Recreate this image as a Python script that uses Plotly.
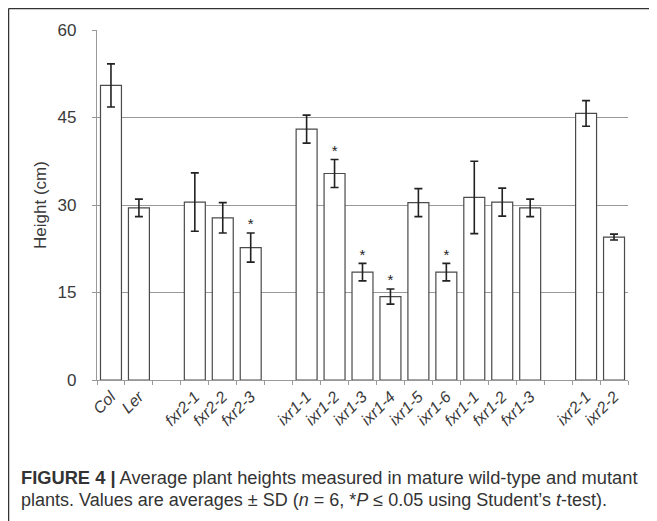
import plotly.graph_objects as go

# ---- data ----
genotypes = ["Col", "Ler",
             "fxr2-1", "fxr2-2", "fxr2-3",
             "ixr1-1", "ixr1-2", "ixr1-3", "ixr1-4", "ixr1-5", "ixr1-6",
             "fxr1-1", "fxr1-2", "fxr1-3",
             "ixr2-1", "ixr2-2"]
heights = [50.5, 29.5, 30.5, 27.8, 22.7, 43.0, 35.4, 18.5, 14.3, 30.4, 18.5,
           31.3, 30.5, 29.5, 45.7, 24.5]
sd = [3.7, 1.5, 5.0, 2.6, 2.5, 2.4, 2.4, 1.5, 1.3, 2.4, 1.5,
      6.2, 2.4, 1.5, 2.2, 0.5]
significant = ["fxr2-3", "ixr1-2", "ixr1-3", "ixr1-4", "ixr1-6"]
group_sizes = [2, 3, 9, 2]
y_ticks = [0, 15, 30, 45, 60]

# ---- category order with empty spacer slots between groups ----
cat_order = []
idx = 0
for g, n in enumerate(group_sizes):
    cat_order.extend(genotypes[idx:idx + n])
    idx += n
    if g < len(group_sizes) - 1:
        cat_order.append(" " * (g + 1))

# page has an 8px body margin; figure origin sits at page (8, 8)
OFF = 8
W, H = 657 - OFF, 521 - OFF
ML = 97 - OFF
MR = W - (628 - OFF)
MT = 30 - OFF
MB = H - (380 - OFF)
PW, PH = W - ML - MR, H - MT - MB


def px_x(p):
    """page pixel x -> paper fraction"""
    return (p - OFF - ML) / PW


def px_y(p):
    """page pixel y -> paper fraction"""
    return (H - MB - (p - OFF)) / PH


star_x = [g for g in genotypes if g in significant]
star_y = [heights[genotypes.index(g)] + sd[genotypes.index(g)] for g in star_x]

font_main = "Liberation Sans, Arial, sans-serif"
txt = "#3a3a3a"

fig = go.Figure()
fig.add_trace(go.Bar(
    x=genotypes, y=heights, width=0.75,
    marker=dict(color="white", line=dict(color="#4a4a4a", width=1.2)),
    error_y=dict(type="data", array=sd, visible=True, color="#222222",
                 thickness=1.6, width=4),
    hoverinfo="x+y",
))
fig.add_trace(go.Scatter(
    x=star_x, y=star_y, mode="text", text=["*"] * len(star_x),
    textposition="top center",
    textfont=dict(size=15, color="#222222", family=font_main),
    hoverinfo="skip",
))

fig.update_layout(
    width=W, height=H,
    margin=dict(l=ML, r=MR, t=MT, b=MB, pad=0),
    paper_bgcolor="white", plot_bgcolor="white",
    showlegend=False,
    font=dict(family=font_main, color=txt),
    xaxis=dict(
        type="category", categoryorder="array", categoryarray=cat_order,
        range=[-0.5, len(cat_order) - 0.5],
        tickson="boundaries", ticks="outside", ticklen=4, tickcolor="#999999",
        showline=True, linecolor="#999999", linewidth=1.2,
        showgrid=False, tickangle=-45,
        tickfont=dict(size=16, family=font_main, style="italic", color=txt),
        fixedrange=True,
    ),
    yaxis=dict(
        range=[0, 60], tickvals=y_ticks,
        showgrid=True, gridcolor="#999999", gridwidth=1.2,
        showline=True, linecolor="#999999", linewidth=1.2,
        ticks="outside", ticklen=4, tickcolor="#999999",
        ticklabelstandoff=12,
        zeroline=False,
        tickfont=dict(size=17, color=txt),
        title=dict(text="Height (cm)", font=dict(size=17, color=txt),
                   standoff=6),
        fixedrange=True,
    ),
    shapes=[
        dict(type="line", xref="paper", yref="paper",
             x0=px_x(8.5), x1=px_x(8.5), y0=px_y(8.5), y1=px_y(530),
             line=dict(color="#333333", width=1.5)),
        dict(type="line", xref="paper", yref="paper",
             x0=px_x(8.5), x1=px_x(670), y0=px_y(8.5), y1=px_y(8.5),
             line=dict(color="#333333", width=1.5)),
    ],
    annotations=[
        dict(xref="paper", yref="paper", x=px_x(19), y=px_y(477),
             xanchor="left", yanchor="middle", showarrow=False, align="left",
             text="<b>FIGURE 4 |</b> Average plant heights measured in mature wild-type and mutant",
             font=dict(size=18.3, color="#333333", family=font_main)),
        dict(xref="paper", yref="paper", x=px_x(19), y=px_y(500),
             xanchor="left", yanchor="middle", showarrow=False, align="left",
             text="plants. Values are averages ± SD (<i>n</i> = 6, *<i>P</i> ≤ 0.05 using Student’s <i>t</i>-test).",
             font=dict(size=18, color="#333333", family=font_main)),
    ],
)

fig.write_html("out.html")
